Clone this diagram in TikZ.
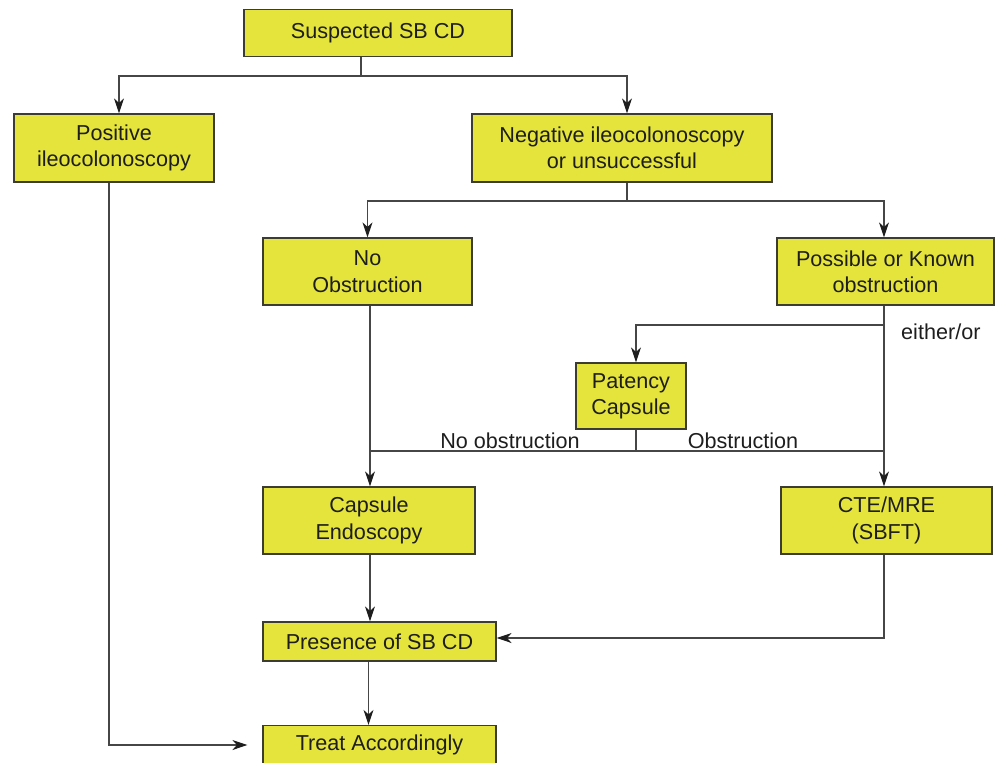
\documentclass[tikz,border=0pt]{standalone}
\usepackage{fontspec}
\setmainfont{Liberation Sans}
\usepackage{tikz}
\usetikzlibrary{positioning,calc,arrows.meta}
\definecolor{boxfill}{RGB}{228,228,60}
\definecolor{boxline}{RGB}{60,60,50}
\definecolor{wire}{RGB}{70,70,70}
\definecolor{ink}{RGB}{30,30,30}

\begin{document}
\begin{tikzpicture}[
        x=0.02cm, y=-0.02cm,
        every node/.style={font=\fontsize{12.3}{15}\selectfont, align=center, text=ink},
        box/.style={draw=boxline, fill=boxfill, line width=0.7pt, rectangle, inner sep=0pt},
        wire/.style={draw=wire, line width=0.7pt},
        arr/.style={wire, -{Stealth[length=0.3cm, width=0.2cm, inset=0.09cm, color=ink]}}
    ]
        \useasboundingbox (0,0) rectangle (995,762);

        \node[box, minimum width=5.36cm, minimum height=0.94cm] (sus) at (378,33) {Suspected SB CD};
        \node[box, minimum width=4.0cm, minimum height=1.36cm] (pos) at (114,148) {Positive\\ileocolonoscopy};
        \node[box, minimum width=6.0cm, minimum height=1.36cm] (neg) at (622,148) {Negative ileocolonoscopy\\or unsuccessful};
        \node[box, minimum width=4.18cm, minimum height=1.34cm] (noobs) at (367.5,271.5) {No\\Obstruction};
        \node[box, minimum width=4.34cm, minimum height=1.34cm] (poss) at (885.5,271.5) {Possible or Known\\obstruction};
        \node[box, minimum width=2.2cm, minimum height=1.32cm] (pat) at (631,396) {Patency\\Capsule};
        \node[box, minimum width=4.24cm, minimum height=1.34cm] (cap) at (369,520.5) {Capsule\\Endoscopy};
        \node[box, minimum width=4.22cm, minimum height=1.34cm] (cte) at (886.5,520.5) {CTE/MRE\\(SBFT)};
        \node[box, minimum width=4.66cm, minimum height=0.78cm] (pres) at (379.5,641.5) {Presence of SB CD};
        \node[box, minimum width=4.66cm, minimum height=0.78cm] (treat) at (379.5,745) {Treat Accordingly};

        \coordinate (j1) at (361,76);
        \coordinate (j2) at (627,201);
        \coordinate (j3) at (884,325);
        \coordinate (j4) at (370,451);
        \coordinate (j5) at (636,451);

        \draw[wire] (sus.south -| j1) -- (j1);
        \draw[arr] (j1) -| ($(pos.north)+(5,0)$);
        \draw[arr] (j1) -| ($(neg.north)+(5,0)$);

        \draw[wire] (neg.south -| j2) -- (j2);
        \draw[arr] (j2) -| (noobs.north);
        \draw[arr] (j2) -| (poss.north -| j3);

        \draw[arr] (poss.south -| j3) -- (cte.north -| j3);
        \draw[arr] (j3) -| ($(pat.north)+(5,0)$);
        \node[anchor=west] (eo) at (895,332) {either/or};

        \draw[arr] (noobs.south -| j4) -- (cap.north -| j4);
        \draw[wire] (pat.south -| j5) -- (j5);
        \draw[wire] (j4) -- (j3 |- j4);
        \node (nolab) at (510,441) {No obstruction};
        \node (oblab) at (743,441) {Obstruction};

        \draw[arr] (cap.south -| j4) -- (pres.north -| j4);
        \draw[arr] (cte.south -| j3) |- ($(pres.east)+(0,-3.5)$);
        \draw[arr] ($(pres.south)+(-11,0)$) -- ($(treat.north)+(-11,0)$);
        \draw[arr, shorten >=0.3cm] ($(pos.south)+(-5,0)$) |- (treat.west);
    \end{tikzpicture}
\end{document}
